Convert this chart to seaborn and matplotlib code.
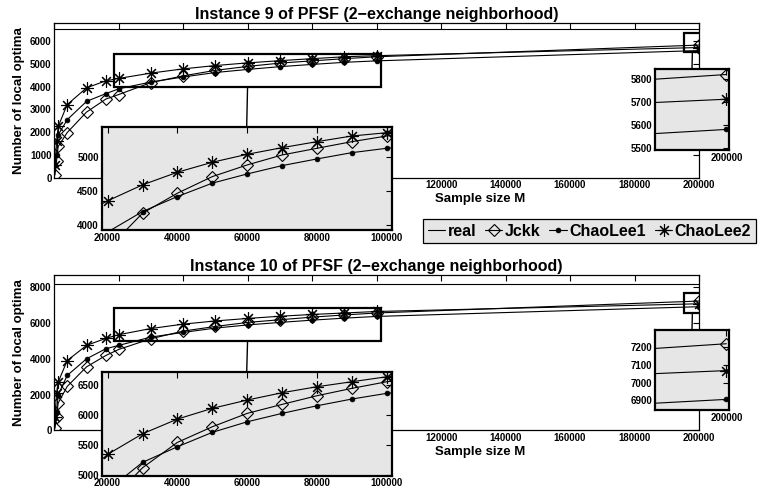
import pandas as pd
import seaborn as sns
import matplotlib.pyplot as plt
from matplotlib.patches import Rectangle, ConnectionPatch
from matplotlib.lines import Line2D

# sample sizes M used for the estimators
sample_size = [200, 700, 1200, 4000, 10000, 16000, 20000, 30000, 40000, 50000,
               60000, 70000, 80000, 90000, 100000, 200000]

# Instance 9
jckk_9 = [120, 750, 1370, 1980, 2880, 3450, 3650, 4176, 4469, 4712,
          4883, 5029, 5127, 5224, 5307, 5820]
chaolee1_9 = [560, 1000, 1880, 2545, 3350, 3690, 3900, 4200, 4420, 4616,
              4751, 4873, 4971, 5063, 5127, 5580]
chaolee2_9 = [560, 1590, 2250, 3207, 3943, 4250, 4357, 4591, 4776, 4922,
              5039, 5136, 5224, 5307, 5355, 5712]
real_9 = 6514

# Instance 10
jckk_10 = [120, 775, 1528, 2460, 3550, 4185, 4522, 5122, 5545, 5805,
           6028, 6178, 6322, 6445, 6555, 7220]
chaolee1_10 = [700, 1056, 1995, 3070, 4000, 4560, 4747, 5212, 5472, 5712,
               5888, 6028, 6155, 6267, 6362, 6905]
chaolee2_10 = [775, 2090, 2700, 3900, 4747, 5140, 5345, 5688, 5933, 6112,
               6250, 6372, 6472, 6555, 6638, 7068]
real_10 = 8150

estimators = ['Jckk', 'ChaoLee1', 'ChaoLee2']

sns.set_theme(style="white")
plt.rcParams['font.family'] = ['Liberation Sans', 'DejaVu Sans']
plt.rcParams['font.weight'] = 'bold'
plt.rcParams['axes.edgecolor'] = 'black'
for key in ['text.color', 'axes.labelcolor', 'xtick.color', 'ytick.color']:
    plt.rcParams[key] = 'black'

styles = {
    'Jckk': dict(marker='D', markersize=6.5, markerfacecolor='none',
                 markeredgecolor='black', markeredgewidth=0.8),
    'ChaoLee1': dict(marker='o', markersize=3.5, markerfacecolor='black',
                     markeredgecolor='black', markeredgewidth=0.5),
    'ChaoLee2': dict(marker=(8, 2, 0), markersize=9,
                     markeredgecolor='black', markeredgewidth=0.8),
}

gray = '#e6e6e6'


def draw_lines(ax, df):
    for name in estimators:
        sub = df[df['estimator'] == name]
        sns.lineplot(data=sub, x='M', y='value', ax=ax, color='black',
                     linewidth=0.8, errorbar=None, legend=False, **styles[name])
    ax.set_xlabel('')
    ax.set_ylabel('')


def style_axis(ax, lw, size=7):
    ax.tick_params(direction='in', top=True, right=True, length=4, width=0.8,
                   labelsize=size, pad=2, colors='black')
    for s in ax.spines.values():
        s.set_linewidth(lw)
        s.set_color('black')


def panel(fig, main_rect, in1_rect, in2_rect, series, real, title, ylim, yticks,
          box1, in1_ylim, in1_yticks, box2, in2_ylim, in2_yticks):
    df = pd.DataFrame({
        'M': sample_size * 3,
        'value': series[0] + series[1] + series[2],
        'estimator': [e for e in estimators for _ in sample_size],
    })

    ax = fig.add_axes(main_rect)
    ax.set_facecolor('white')
    ax.axhline(real, color='black', linewidth=0.8)
    draw_lines(ax, df)
    ax.set_xlim(0, 200000)
    ax.set_ylim(*ylim)
    xt = list(range(0, 200001, 20000))
    ax.set_xticks(xt, ['' if v <= 100000 else str(v) for v in xt])
    ax.set_yticks(yticks, [str(v) for v in yticks])
    style_axis(ax, 0.9)
    ax.set_title(title, fontsize=11.5, fontweight='bold', pad=3)
    ax.set_ylabel('Number of local optima', fontsize=9.5, fontweight='bold')
    ax.yaxis.set_label_coords(-0.046, 0.5)
    ax.set_xlabel('Sample size M', fontsize=9.5, fontweight='bold')
    ax.xaxis.set_label_coords(0.66, -0.10)

    # zoom boxes in the main axes
    for (x0, x1, y0, y1) in (box1, box2):
        ax.add_patch(Rectangle((x0, y0), x1 - x0, y1 - y0, fill=False,
                               edgecolor='black', linewidth=1.6, zorder=5))

    # inset 1: 20000 - 100000
    ins1 = fig.add_axes(in1_rect)
    ins1.set_facecolor(gray)
    draw_lines(ins1, df)
    ins1.set_xlim(18300, 101400)
    ins1.set_ylim(*in1_ylim)
    ins1.set_xticks(xt[1:6], [str(v) for v in xt[1:6]])
    ins1.set_yticks(in1_yticks, [str(v) for v in in1_yticks])
    style_axis(ins1, 1.6)

    # inset 2: around 200000
    ins2 = fig.add_axes(in2_rect)
    ins2.set_facecolor(gray)
    draw_lines(ins2, df)
    ins2.set_xlim(196000, 200150)
    ins2.set_ylim(*in2_ylim)
    ins2.set_xticks([200000], ['200000'])
    ins2.set_yticks(in2_yticks, [str(v) for v in in2_yticks])
    style_axis(ins2, 1.6)

    # connectors from boxes to insets
    for box, ins in ((box1, ins1), (box2, ins2)):
        con = ConnectionPatch(xyA=((box[0] + box[1]) / 2, box[2]), coordsA=ax.transData,
                              xyB=(0.5, 1.0), coordsB=ins.transAxes,
                              color='black', linewidth=1.0)
        fig.add_artist(con)
    return ax


fig = plt.figure(figsize=(7.64, 4.93), dpi=100)

panel(fig, [0.0711, 0.6396, 0.8438, 0.3144], [0.1331, 0.5335, 0.3796, 0.2095],
      [0.8573, 0.6957, 0.0969, 0.1643],
      [jckk_9, chaolee1_9, chaolee2_9], real_9,
      'Instance 9 of PFSF (2\u2212exchange neighborhood)',
      (0, 6803), list(range(0, 6001, 1000)),
      (18600, 101300, 3995, 5443), (3930, 5443), [4000, 4500, 5000],
      (195400, 200500, 5505, 6339), (5490, 5844), [5500, 5600, 5700, 5800])

panel(fig, [0.0711, 0.1268, 0.8438, 0.3160], [0.1331, 0.0351, 0.3796, 0.2097],
      [0.8573, 0.1684, 0.0969, 0.1623],
      [jckk_10, chaolee1_10, chaolee2_10], real_10,
      'Instance 10 of PFSF (2\u2212exchange neighborhood)',
      (0, 8690), list(range(0, 8001, 2000)),
      (18600, 101300, 4989, 6845), (4990, 6712), [5000, 5500, 6000, 6500],
      (195400, 200500, 6566, 7648), (6845, 7298), [6900, 7000, 7100, 7200])

handles = [Line2D([], [], color='black', linewidth=0.8)]
for name in estimators:
    handles.append(Line2D([], [], color='black', linewidth=0.8, **styles[name]))
leg = fig.legend(handles, ['real'] + estimators, loc='upper left',
                 bbox_to_anchor=(0.5533, 0.5560), ncol=4, frameon=True,
                 fancybox=False, facecolor=gray, edgecolor='black', framealpha=1,
                 prop={'size': 11.5, 'weight': 'bold'}, handlelength=1.1,
                 handletextpad=0.15, columnspacing=0.55, borderpad=0.3,
                 borderaxespad=0)
leg.get_frame().set_linewidth(0.9)

fig.savefig('out.png', dpi=100)
